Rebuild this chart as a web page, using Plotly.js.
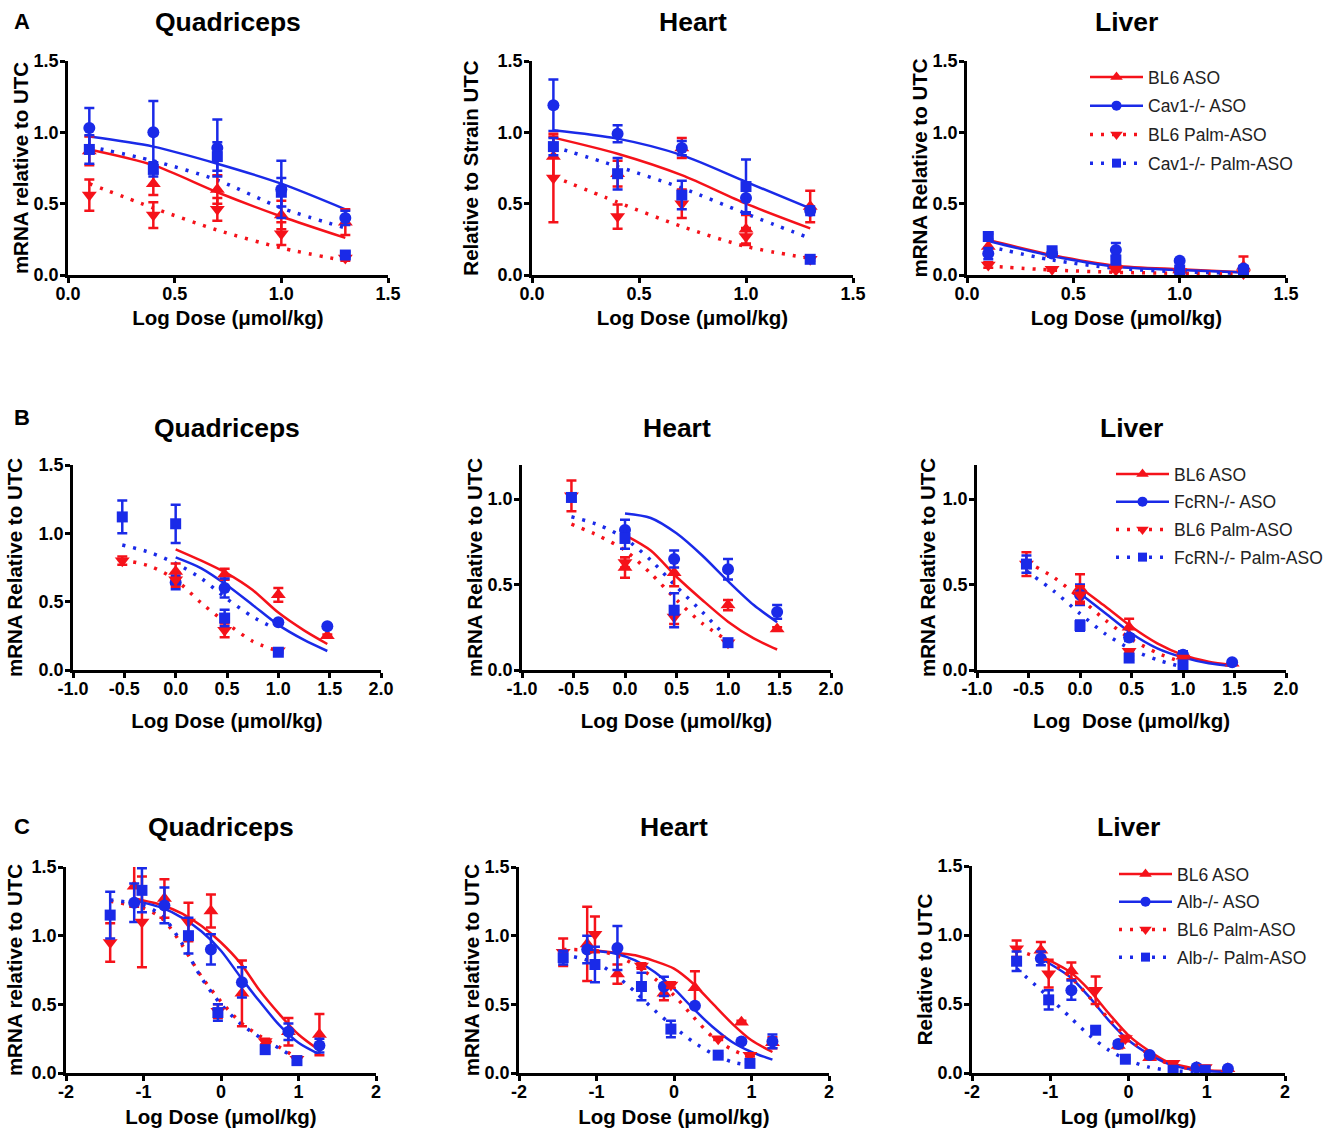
<!DOCTYPE html>
<html><head><meta charset="utf-8">
<script src="https://cdn.plot.ly/plotly-3.0.1.min.js"></script>
<style>html,body{margin:0;padding:0;background:#fff}#chart{width:1324px;height:1130px}</style>
</head><body><div id="chart"></div>
<script>
// ---------------- DATA ----------------
// Row A (Cav1-/-)
const doseA = [0.1, 0.4, 0.7, 1.0, 1.3];
const namesA = ['BL6 ASO', 'Cav1-/- ASO', 'BL6 Palm-ASO', 'Cav1-/- Palm-ASO'];
const fitXA = [0.1, 0.4, 0.7, 1.0, 1.3];
const tickValsA = [0, 0.5, 1.0, 1.5];
const tickTextA = ['0.0', '0.5', '1.0', '1.5'];
// A Quadriceps
const aQuadBl6 = [0.87, 0.64, 0.60, 0.42, 0.37], aQuadBl6Err = [0.10, 0.08, 0.10, 0.10, 0.09];
const aQuadKo = [1.03, 1.00, 0.89, 0.60, 0.40], aQuadKoErr = [0.14, 0.22, 0.20, 0.20, 0.05];
const aQuadBl6P = [0.56, 0.42, 0.46, 0.29, 0.12], aQuadBl6PErr = [0.11, 0.09, 0.08, 0.08, 0.02];
const aQuadKoP = [0.88, 0.74, 0.83, 0.58, 0.14], aQuadKoPErr = [0.10, 0.05, 0.10, 0.10, 0.02];
const aQuadFitBl6 = [0.88, 0.77, 0.58, 0.41, 0.26], aQuadFitKo = [0.97, 0.90, 0.78, 0.64, 0.46];
const aQuadFitBl6P = [0.64, 0.47, 0.315, 0.19, 0.10], aQuadFitKoP = [0.90, 0.80, 0.665, 0.47, 0.33];
// A Heart
const aHeartBl6 = [0.83, 0.71, 0.89, 0.32, 0.48], aHeartBl6Err = [0.14, 0.09, 0.07, 0.10, 0.11];
const aHeartKo = [1.19, 0.99, 0.89, 0.54, 0.45], aHeartKoErr = [0.18, 0.06, 0.05, 0.10, 0.03];
const aHeartBl6P = [0.68, 0.41, 0.50, 0.27, 0.11], aHeartBl6PErr = [0.31, 0.085, 0.10, 0.06, 0.01];
const aHeartKoP = [0.90, 0.71, 0.56, 0.62, 0.11], aHeartKoPErr = [0.06, 0.11, 0.10, 0.19, 0.01];
const aHeartFitBl6 = [0.963, 0.85, 0.70, 0.50, 0.327], aHeartFitKo = [1.015, 0.956, 0.84, 0.653, 0.467];
const aHeartFitBl6P = [0.69, 0.51, 0.34, 0.20, 0.117], aHeartFitKoP = [0.90, 0.76, 0.61, 0.43, 0.257];
// A Liver
const aLiverBl6 = [0.20, 0.15, 0.077, 0.035, 0.06], aLiverBl6Err = [0.04, 0.02, 0.03, 0.01, 0.07];
const aLiverKo = [0.15, 0.15, 0.175, 0.10, 0.045], aLiverKoErr = [0.04, 0.02, 0.05, 0.01, 0.01];
const aLiverBl6P = [0.07, 0.04, 0.035, 0.025, 0.01], aLiverBl6PErr = [0.02, 0.01, 0.01, 0.01, 0.01];
const aLiverKoP = [0.27, 0.17, 0.105, 0.035, 0.03], aLiverKoPErr = [0.02, 0.02, 0.03, 0.01, 0.01];
const aLiverFitBl6 = [0.245, 0.14, 0.065, 0.04, 0.02], aLiverFitKo = [0.238, 0.133, 0.058, 0.035, 0.017];
const aLiverFitBl6P = [0.063, 0.035, 0.019, 0.012, 0.007], aLiverFitKoP = [0.20, 0.105, 0.047, 0.023, 0.012];

// Row B (FcRN-/-)
const doseBAso = [0, 0.477, 1.0, 1.477];
const doseBPalm = [-0.52, 0, 0.477, 1.0];
const namesB = ['BL6 ASO', 'FcRN-/- ASO', 'BL6 Palm-ASO', 'FcRN-/- Palm-ASO'];
const fitXBAso = [0, 0.25, 0.5, 0.75, 1.0, 1.25, 1.477];
const fitXBPalm = [-0.52, -0.25, 0, 0.25, 0.5, 0.75, 0.95];
const tickValsB = [-1, -0.5, 0, 0.5, 1, 1.5, 2];
const tickTextB = ['-1.0', '-0.5', '0.0', '0.5', '1.0', '1.5', '2.0'];
// B Quadriceps
const bQuadBl6 = [0.72, 0.70, 0.55, 0.25], bQuadBl6Err = [0.06, 0.04, 0.05, 0.01];
const bQuadKo = [0.64, 0.60, 0.35, 0.32], bQuadKoErr = [0.05, 0.07, 0.01, 0.01];
const bQuadBl6P = [0.80, 0.66, 0.29, 0.14], bQuadBl6PErr = [0.03, 0.05, 0.05, 0.01];
const bQuadKoP = [1.12, 1.07, 0.38, 0.13], bQuadKoPErr = [0.12, 0.14, 0.06, 0.01];
const bQuadFitBl6 = [0.883, 0.80, 0.707, 0.585, 0.42, 0.29, 0.19];
const bQuadFitKo = [0.824, 0.744, 0.62, 0.476, 0.33, 0.22, 0.139];
const bQuadFitBl6P = [0.805, 0.76, 0.66, 0.49, 0.34, 0.21, 0.15];
const bQuadFitKoP = [0.915, 0.86, 0.78, 0.67, 0.52, 0.39, 0.31];
// B Heart
const bHeartBl6 = [0.60, 0.57, 0.38, 0.24], bHeartBl6Err = [0.06, 0.08, 0.03, 0.01];
const bHeartKo = [0.82, 0.65, 0.59, 0.34], bHeartKoErr = [0.06, 0.05, 0.06, 0.04];
const bHeartBl6P = [1.02, 0.63, 0.31, 0.16], bHeartBl6PErr = [0.09, 0.03, 0.04, 0.01];
const bHeartKoP = [1.01, 0.77, 0.35, 0.16], bHeartKoPErr = [0.02, 0.06, 0.10, 0.01];
const bHeartFitBl6 = [0.79, 0.70, 0.546, 0.41, 0.283, 0.185, 0.12];
const bHeartFitKo = [0.916, 0.89, 0.80, 0.67, 0.52, 0.38, 0.28];
const bHeartFitBl6P = [0.854, 0.784, 0.70, 0.565, 0.41, 0.273, 0.19];
const bHeartFitKoP = [0.897, 0.848, 0.77, 0.643, 0.487, 0.34, 0.215];
// B Liver
const bLiverBl6 = [0.48, 0.25, 0.08, 0.04], bLiverBl6Err = [0.08, 0.05, 0.02, 0.01];
const bLiverKo = [0.44, 0.19, 0.09, 0.045], bLiverKoErr = [0.06, 0.02, 0.02, 0.01];
const bLiverBl6P = [0.62, 0.44, 0.11, 0.07], bLiverBl6PErr = [0.07, 0.05, 0.01, 0.01];
const bLiverKoP = [0.62, 0.26, 0.07, 0.03], bLiverKoPErr = [0.05, 0.03, 0.01, 0.01];
const bLiverFitBl6 = [0.483, 0.37, 0.253, 0.156, 0.088, 0.049, 0.03];
const bLiverFitKo = [0.448, 0.331, 0.214, 0.127, 0.074, 0.039, 0.023];
const bLiverFitBl6P = [0.634, 0.54, 0.42, 0.29, 0.18, 0.10, 0.055];
const bLiverFitKoP = [0.58, 0.46, 0.33, 0.21, 0.12, 0.06, 0.025];

// Row C (Alb-/-)
const doseCAso = [-1.12, -0.73, -0.13, 0.27, 0.87, 1.27];
const doseCPalm = [-1.43, -1.02, -0.42, -0.04, 0.57, 0.98];
const namesC = ['BL6 ASO', 'Alb-/- ASO', 'BL6 Palm-ASO', 'Alb-/- Palm-ASO'];
const fitXCAso = [-1.12, -0.75, -0.5, -0.25, 0, 0.25, 0.5, 0.75, 1.0, 1.27];
const fitXCPalm = [-1.43, -1.0, -0.75, -0.5, -0.25, 0, 0.25, 0.5, 0.75, 0.98];
const tickValsC = [-2, -1, 0, 1, 2];
const tickTextC = ['-2', '-1', '0', '1', '2'];
// C Quadriceps
const cQuadBl6 = [1.36, 1.27, 1.18, 0.58, 0.30, 0.28], cQuadBl6Err = [0.15, 0.14, 0.12, 0.24, 0.10, 0.15];
const cQuadKo = [1.24, 1.22, 0.90, 0.66, 0.30, 0.20], cQuadKoErr = [0.14, 0.13, 0.11, 0.11, 0.06, 0.05];
const cQuadBl6P = [0.95, 1.10, 1.10, 0.45, 0.23, 0.10], cQuadBl6PErr = [0.14, 0.33, 0.14, 0.05, 0.02, 0.02];
const cQuadKoP = [1.15, 1.33, 1.00, 0.44, 0.17, 0.09], cQuadKoPErr = [0.17, 0.16, 0.13, 0.06, 0.02, 0.02];
const cQuadFitBl6 = [1.27, 1.22, 1.16, 1.07, 0.95, 0.80, 0.60, 0.43, 0.28, 0.165];
const cQuadFitKo = [1.257, 1.20, 1.13, 1.03, 0.89, 0.70, 0.52, 0.35, 0.22, 0.136];
const cQuadFitBl6P = [1.25, 1.20, 1.12, 0.93, 0.70, 0.52, 0.37, 0.27, 0.19, 0.11];
const cQuadFitKoP = [1.26, 1.22, 1.14, 0.94, 0.69, 0.50, 0.36, 0.26, 0.18, 0.10];
// C Heart
const cHeartBl6 = [0.94, 0.72, 0.58, 0.62, 0.37, 0.22], cHeartBl6Err = [0.27, 0.07, 0.05, 0.12, 0.01, 0.04];
const cHeartKo = [0.90, 0.91, 0.63, 0.49, 0.23, 0.23], cHeartKoErr = [0.10, 0.16, 0.07, 0.01, 0.01, 0.05];
const cHeartBl6P = [0.88, 1.01, 0.78, 0.64, 0.25, 0.13], cHeartBl6PErr = [0.10, 0.13, 0.02, 0.02, 0.01, 0.01];
const cHeartKoP = [0.84, 0.79, 0.63, 0.32, 0.13, 0.07], cHeartKoPErr = [0.05, 0.13, 0.10, 0.06, 0.01, 0.01];
const cHeartFitBl6 = [0.90, 0.875, 0.857, 0.815, 0.76, 0.65, 0.505, 0.36, 0.238, 0.153];
const cHeartFitKo = [0.893, 0.869, 0.82, 0.735, 0.614, 0.468, 0.335, 0.226, 0.153, 0.097];
const cHeartFitBl6P = [0.90, 0.89, 0.857, 0.784, 0.687, 0.566, 0.408, 0.262, 0.17, 0.117];
const cHeartFitKoP = [0.864, 0.80, 0.71, 0.59, 0.456, 0.335, 0.226, 0.14, 0.08, 0.056];
// C Liver
const cLiverBl6 = [0.89, 0.74, 0.20, 0.11, 0.04, 0.03], cLiverBl6Err = [0.06, 0.06, 0.02, 0.01, 0.01, 0.01];
const cLiverKo = [0.83, 0.60, 0.21, 0.13, 0.04, 0.03], cLiverKoErr = [0.05, 0.07, 0.02, 0.01, 0.01, 0.01];
const cLiverBl6P = [0.90, 0.72, 0.60, 0.25, 0.07, 0.04], cLiverBl6PErr = [0.06, 0.10, 0.10, 0.02, 0.01, 0.01];
const cLiverKoP = [0.81, 0.53, 0.31, 0.10, 0.02, 0.02], cLiverKoPErr = [0.07, 0.07, 0.02, 0.01, 0.01, 0.01];
const cLiverFitBl6 = [0.847, 0.733, 0.60, 0.43, 0.273, 0.165, 0.08, 0.044, 0.02, 0.015];
const cLiverFitKo = [0.83, 0.697, 0.55, 0.38, 0.237, 0.14, 0.068, 0.031, 0.015, 0.007];
const cLiverFitBl6P = [0.89, 0.80, 0.70, 0.55, 0.39, 0.25, 0.14, 0.07, 0.035, 0.02];
const cLiverFitKoP = [0.757, 0.54, 0.406, 0.273, 0.165, 0.092, 0.044, 0.02, 0.01, 0.005];

const panelTitles = ['Quadriceps', 'Heart', 'Liver'];
const rowLetters = ['A', 'B', 'C'];

// ---------------- STYLE / LAYOUT ----------------
const W = 1324, H = 1130;
const RED = '#f5121a', BLUE = '#1a2ae8';
const FONT = 'Liberation Sans, Arial, Helvetica, sans-serif';
const colors = [RED, BLUE, RED, BLUE];
const symbols = ['triangle-up', 'circle', 'triangle-down', 'square'];
const msizes = [13, 12, 13, 11];
const legSizes = [11, 10, 11, 9];
const dashes = ['solid', 'solid', '3px,8px', '3px,8px'];

function S(pts, err, fitX, fitY, x) { return {x: x, y: pts, err: err, fitX: fitX, fitY: fitY}; }

const panels = [
  {box:[68,388,61,275], tv:tickValsA, tt:tickTextA, xr:[0,1.5], yr:[0,1.5], yt:'mRNA relative to UTC', xt:'Log Dose (μmol/kg)', ys:0, xs:8,
   names:namesA, series:[S(aQuadBl6,aQuadBl6Err,fitXA,aQuadFitBl6,doseA), S(aQuadKo,aQuadKoErr,fitXA,aQuadFitKo,doseA), S(aQuadBl6P,aQuadBl6PErr,fitXA,aQuadFitBl6P,doseA), S(aQuadKoP,aQuadKoPErr,fitXA,aQuadFitKoP,doseA)]},
  {box:[532,853,61,275], tv:tickValsA, tt:tickTextA, xr:[0,1.5], yr:[0,1.5], yt:'Relative to Strain UTC', xt:'Log Dose (μmol/kg)', ys:14, xs:8,
   names:namesA, series:[S(aHeartBl6,aHeartBl6Err,fitXA,aHeartFitBl6,doseA), S(aHeartKo,aHeartKoErr,fitXA,aHeartFitKo,doseA), S(aHeartBl6P,aHeartBl6PErr,fitXA,aHeartFitBl6P,doseA), S(aHeartKoP,aHeartKoPErr,fitXA,aHeartFitKoP,doseA)]},
  {box:[967,1286,61,275], tv:tickValsA, tt:tickTextA, xr:[0,1.5], yr:[0,1.5], yt:'mRNA Relative to UTC', xt:'Log Dose (μmol/kg)', ys:0, xs:8, legend:'legend', lx:1085, ly:59, gap:3,
   names:namesA, series:[S(aLiverBl6,aLiverBl6Err,fitXA,aLiverFitBl6,doseA), S(aLiverKo,aLiverKoErr,fitXA,aLiverFitKo,doseA), S(aLiverBl6P,aLiverBl6PErr,fitXA,aLiverFitBl6P,doseA), S(aLiverKoP,aLiverKoPErr,fitXA,aLiverFitKoP,doseA)]},
  {box:[73,381,465,670], tv:tickValsB, tt:tickTextB, xr:[-1,2], yr:[0,1.5], yt:'mRNA Relative to UTC', xt:'Log Dose (μmol/kg)', ys:11, xs:16,
   names:namesB, series:[S(bQuadBl6,bQuadBl6Err,fitXBAso,bQuadFitBl6,doseBAso), S(bQuadKo,bQuadKoErr,fitXBAso,bQuadFitKo,doseBAso), S(bQuadBl6P,bQuadBl6PErr,fitXBPalm,bQuadFitBl6P,doseBPalm), S(bQuadKoP,bQuadKoPErr,fitXBPalm,bQuadFitKoP,doseBPalm)]},
  {box:[522,831,465,670], tv:tickValsB, tt:tickTextB, xr:[-1,2], yr:[0,1.2], yt:'mRNA Relative to UTC', xt:'Log Dose (μmol/kg)', ys:0, xs:16,
   names:namesB, series:[S(bHeartBl6,bHeartBl6Err,fitXBAso,bHeartFitBl6,doseBAso), S(bHeartKo,bHeartKoErr,fitXBAso,bHeartFitKo,doseBAso), S(bHeartBl6P,bHeartBl6PErr,fitXBPalm,bHeartFitBl6P,doseBPalm), S(bHeartKoP,bHeartKoPErr,fitXBPalm,bHeartFitKoP,doseBPalm)]},
  {box:[977,1286,465,670], tv:tickValsB, tt:tickTextB, xr:[-1,2], yr:[0,1.2], yt:'mRNA Relative to UTC', xt:'Log  Dose (μmol/kg)', ys:2, xs:16, legend:'legend2', lx:1111, ly:456, gap:2,
   names:namesB, series:[S(bLiverBl6,bLiverBl6Err,fitXBAso,bLiverFitBl6,doseBAso), S(bLiverKo,bLiverKoErr,fitXBAso,bLiverFitKo,doseBAso), S(bLiverBl6P,bLiverBl6PErr,fitXBPalm,bLiverFitBl6P,doseBPalm), S(bLiverKoP,bLiverKoPErr,fitXBPalm,bLiverFitKoP,doseBPalm)]},
  {box:[66,376,867,1073], tv:tickValsC, tt:tickTextC, xr:[-2,2], yr:[0,1.5], yt:'mRNA relative to UTC', xt:'Log Dose (μmol/kg)', ys:4, xs:9,
   names:namesC, series:[S(cQuadBl6,cQuadBl6Err,fitXCAso,cQuadFitBl6,doseCAso), S(cQuadKo,cQuadKoErr,fitXCAso,cQuadFitKo,doseCAso), S(cQuadBl6P,cQuadBl6PErr,fitXCPalm,cQuadFitBl6P,doseCPalm), S(cQuadKoP,cQuadKoPErr,fitXCPalm,cQuadFitKoP,doseCPalm)]},
  {box:[519,829,867,1073], tv:tickValsC, tt:tickTextC, xr:[-2,2], yr:[0,1.5], yt:'mRNA relative to UTC', xt:'Log Dose (μmol/kg)', ys:0, xs:9,
   names:namesC, series:[S(cHeartBl6,cHeartBl6Err,fitXCAso,cHeartFitBl6,doseCAso), S(cHeartKo,cHeartKoErr,fitXCAso,cHeartFitKo,doseCAso), S(cHeartBl6P,cHeartBl6PErr,fitXCPalm,cHeartFitBl6P,doseCPalm), S(cHeartKoP,cHeartKoPErr,fitXCPalm,cHeartFitKoP,doseCPalm)]},
  {box:[972,1285,866,1073], tv:tickValsC, tt:tickTextC, xr:[-2,2], yr:[0,1.5], yt:'Relative to UTC', xt:'Log (μmol/kg)', ys:0, xs:9, legend:'legend3', lx:1114, ly:856, gap:2,
   names:namesC, series:[S(cLiverBl6,cLiverBl6Err,fitXCAso,cLiverFitBl6,doseCAso), S(cLiverKo,cLiverKoErr,fitXCAso,cLiverFitKo,doseCAso), S(cLiverBl6P,cLiverBl6PErr,fitXCPalm,cLiverFitBl6P,doseCPalm), S(cLiverKoP,cLiverKoPErr,fitXCPalm,cLiverFitKoP,doseCPalm)]}
];

const traces = [];
const layout = {
  width: W, height: H, margin: {l:0, r:0, t:0, b:0, autoexpand: false},
  paper_bgcolor: '#fff', plot_bgcolor: 'rgba(0,0,0,0)',
  font: {family: FONT, color: '#000'},
  showlegend: true, annotations: []
};
const titleY = [22, 428, 827];
const letterY = [22, 418, 826];
const tickFont = {family: FONT, size: 18, weight: 'bold', color: '#000'};
const axTitleFont = {family: FONT, size: 20.5, weight: 'bold', color: '#000'};
const axisCommon = {
  showline: true, linecolor: '#000', linewidth: 2.5, ticks: 'outside', ticklen: 5, tickwidth: 2.5, tickcolor: '#000',
  showgrid: false, zeroline: false, fixedrange: true, automargin: false, tickfont: tickFont
};

panels.forEach((p, i) => {
  const n = i === 0 ? '' : String(i + 1);
  const xa = 'x' + n, ya = 'y' + n;
  const [x0, x1, yt0, yb0] = p.box;
  layout['xaxis' + n] = Object.assign({}, axisCommon, {
    domain: [x0 / W, x1 / W], anchor: ya, range: p.xr, tickmode: 'array', tickvals: p.tv, ticktext: p.tt,
    ticklabelstandoff: -4,
    title: {text: p.xt, standoff: p.xs, font: axTitleFont}
  });
  layout['yaxis' + n] = Object.assign({}, axisCommon, {
    domain: [1 - yb0 / H, 1 - yt0 / H], anchor: xa, range: p.yr, dtick: 0.5, tick0: 0, tickformat: '.1f',
    ticklabelstandoff: -2,
    title: {text: p.yt, standoff: p.ys, font: axTitleFont}
  });
  // fitted curves
  p.series.forEach((s, k) => {
    traces.push({x: s.fitX, y: s.fitY, xaxis: xa, yaxis: ya, mode: 'lines', showlegend: false, hoverinfo: 'skip',
      line: {color: colors[k], width: k < 2 ? 2.5 : 3.5, dash: dashes[k], shape: 'spline', smoothing: 0.8}});
  });
  // data points with SEM bars
  p.series.forEach((s, k) => {
    traces.push({x: s.x, y: s.y, xaxis: xa, yaxis: ya, mode: 'markers', name: p.names[k], showlegend: false, cliponaxis: false,
      marker: {symbol: symbols[k], size: msizes[k], color: colors[k]},
      error_y: {type: 'data', array: s.err, visible: true, color: colors[k], thickness: 2.5, width: 5}});
  });
  // legend entries
  if (p.legend) {
    p.names.forEach((nm, k) => {
      traces.push({x: [null], y: [null], xaxis: xa, yaxis: ya, mode: 'lines+markers', name: nm, legend: p.legend,
        legendgroup: p.legend + k, showlegend: true,
        line: {color: colors[k], width: k < 2 ? 2.5 : 3.5, dash: dashes[k]},
        marker: {symbol: symbols[k], size: legSizes[k], color: colors[k]}});
    });
    layout[p.legend] = {x: p.lx / W, y: 1 - p.ly / H, xanchor: 'left', yanchor: 'top', bgcolor: 'rgba(0,0,0,0)',
      font: {family: FONT, size: 17.5, color: '#222'}, itemwidth: 53, tracegroupgap: p.gap, itemclick: false, itemdoubleclick: false};
  }
  // panel title
  const row = Math.floor(i / 3);
  layout.annotations.push({xref: 'paper', yref: 'paper', x: (x0 + x1) / 2 / W, y: 1 - titleY[row] / H, xanchor: 'center', yanchor: 'middle',
    text: panelTitles[i % 3], showarrow: false, font: {family: FONT, size: 26.5, weight: 'bold', color: '#000'}});
});
rowLetters.forEach((L, r) => {
  layout.annotations.push({xref: 'paper', yref: 'paper', x: 12 / W, y: 1 - letterY[r] / H, xanchor: 'left', yanchor: 'middle',
    text: L, showarrow: false, font: {family: FONT, size: 22, weight: 'bold', color: '#000'}});
});

Plotly.newPlot('chart', traces, layout, {displayModeBar: false});
</script>
</body></html>
